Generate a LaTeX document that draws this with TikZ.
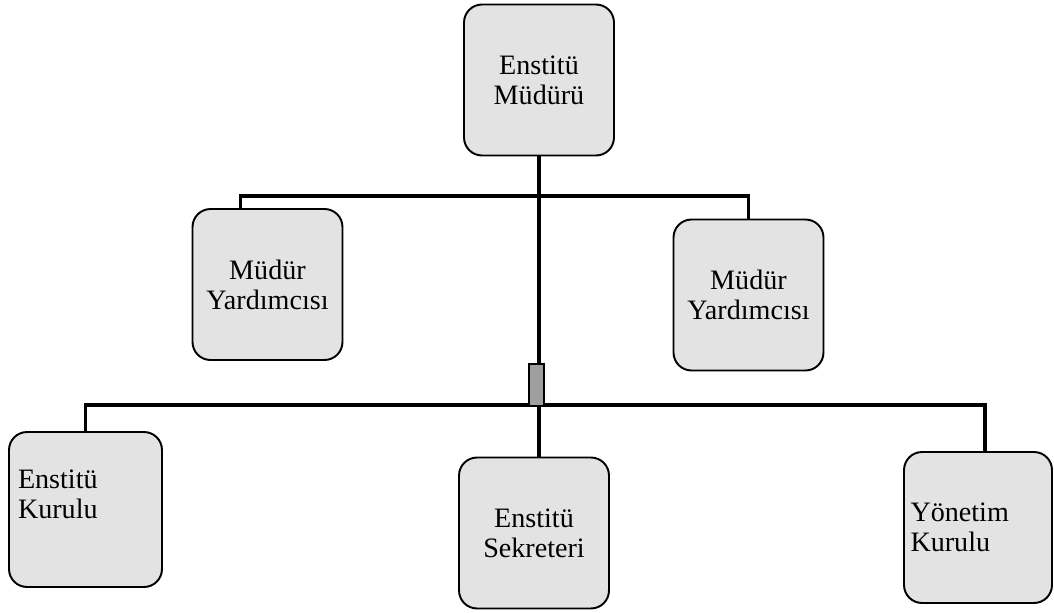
\documentclass[tikz,border=0pt]{standalone}
\usepackage{fontspec}
\setmainfont{Liberation Serif}
\usetikzlibrary{calc}
\tikzstyle{block} = [rectangle, draw, line width=1.1pt, fill=gray!22,
text width=2.7cm, align=center, rounded corners=0.36cm, minimum width=3cm,
minimum height=3.02cm, font=\fontsize{16}{17}\selectfont]
\tikzstyle{link} = [line width=2.2pt]

\begin{document}
\begin{tikzpicture}[x=0.02cm, y=-0.02cm]
\useasboundingbox (0,0) rectangle (1054,612);
\node [block] (director) at (539,80) {Enstitü\\Müdürü};
\node [block] (deputy1) at (267.5,284.5) {Müdür\\Yardımcısı};
\node [block] (deputy2) at (748.5,295) {Müdür\\Yardımcısı};
\node [block, align=left, minimum width=3.06cm, minimum height=3.1cm] (council) at (85.5,509.5) {Enstitü\\Kurulu\\~};
\node [block] (secretary) at (534,533) {Enstitü\\Sekreteri};
\node [block, align=left, minimum width=2.96cm] (board) at (978,527.5) {Yönetim\\Kurulu};
\coordinate (upbar) at (539,196);
\coordinate (lowbar) at (539,405);
\draw [link] (director.south) -- (director.south |- secretary.north);
\draw [link] ($(deputy1.north west)+(49,0)$) |- (upbar) -| (deputy2.north);
\draw [link] (council.north) |- (lowbar) -| ($(board.north)+(7,0)$);
\draw [line width=1.4pt, fill=gray!75] (529,364) rectangle (544,406);
\end{tikzpicture}
\end{document}
